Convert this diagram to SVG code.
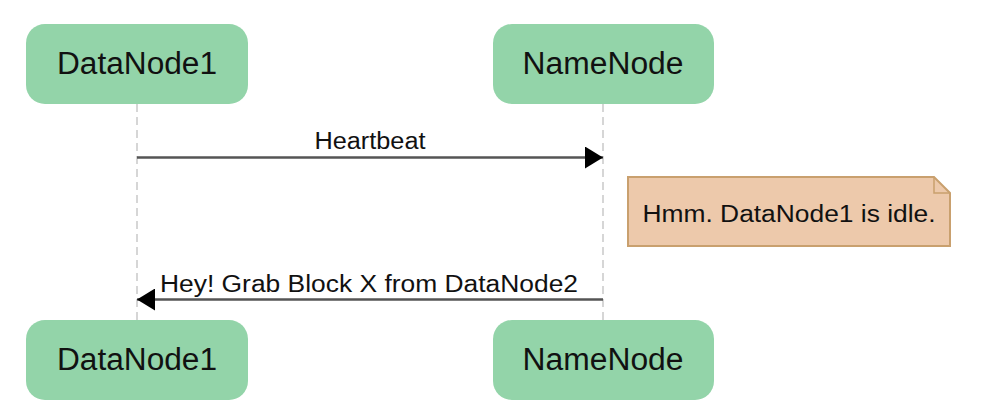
<svg xmlns="http://www.w3.org/2000/svg" width="996" height="411" viewBox="0 0 996 411">
<style>
.actor rect{fill:#93d4a9;stroke:none}
.actor text{font-family:"Liberation Sans",Arial,sans-serif;font-size:31px;fill:#111;text-anchor:middle}
.life{stroke:#d6d6d6;stroke-width:2;stroke-dasharray:8,5;fill:none}
.msg{stroke:#555;stroke-width:2.5;fill:none}
.lbl{font-family:"Liberation Sans",Arial,sans-serif;font-size:23.5px;fill:#111;text-anchor:middle}
.note{fill:#edc9ab;stroke:#c9a06e;stroke-width:2}
</style>
<defs>
<marker id="ah" markerWidth="18" markerHeight="22" refX="18" refY="11" orient="auto" markerUnits="userSpaceOnUse">
<path d="M0,0 L18,11 L0,22 Z" fill="#000"/>
</marker>
</defs>
<g id="lifelines">
<line class="life" x1="137" y1="104" x2="137" y2="320"/>
<line class="life" x1="603" y1="104" x2="603" y2="320"/>
</g>
<g id="datanode1-top" class="actor">
<rect x="26" y="24" width="222" height="80" rx="19"/>
<text x="137" y="74" textLength="160" lengthAdjust="spacingAndGlyphs">DataNode1</text>
</g>
<g id="namenode-top" class="actor">
<rect x="493" y="24" width="221" height="80" rx="19"/>
<text x="603" y="74" textLength="161" lengthAdjust="spacingAndGlyphs">NameNode</text>
</g>
<g id="datanode1-bottom" class="actor">
<rect x="26" y="320" width="222" height="80" rx="19"/>
<text x="137" y="370" textLength="160" lengthAdjust="spacingAndGlyphs">DataNode1</text>
</g>
<g id="namenode-bottom" class="actor">
<rect x="493" y="320" width="221" height="80" rx="19"/>
<text x="603" y="370" textLength="161" lengthAdjust="spacingAndGlyphs">NameNode</text>
</g>
<g id="connectors">
<line class="msg" x1="137" y1="157.5" x2="603" y2="157.5" marker-end="url(#ah)"/>
<text class="lbl" x="370" y="149" textLength="111" lengthAdjust="spacingAndGlyphs">Heartbeat</text>
<line class="msg" x1="603" y1="299.5" x2="137" y2="299.5" marker-end="url(#ah)"/>
<text class="lbl" x="369" y="291.5" textLength="418" lengthAdjust="spacingAndGlyphs">Hey! Grab Block X from DataNode2</text>
</g>
<g id="note">
<path class="note" d="M628,177 H934 L950,193 V246 H628 Z"/>
<path d="M934,177 V193 H950" fill="none" stroke="#c9a06e" stroke-width="1.5"/>
<text class="lbl" x="789" y="222" textLength="293" lengthAdjust="spacingAndGlyphs">Hmm. DataNode1 is idle.</text>
</g>
</svg>
